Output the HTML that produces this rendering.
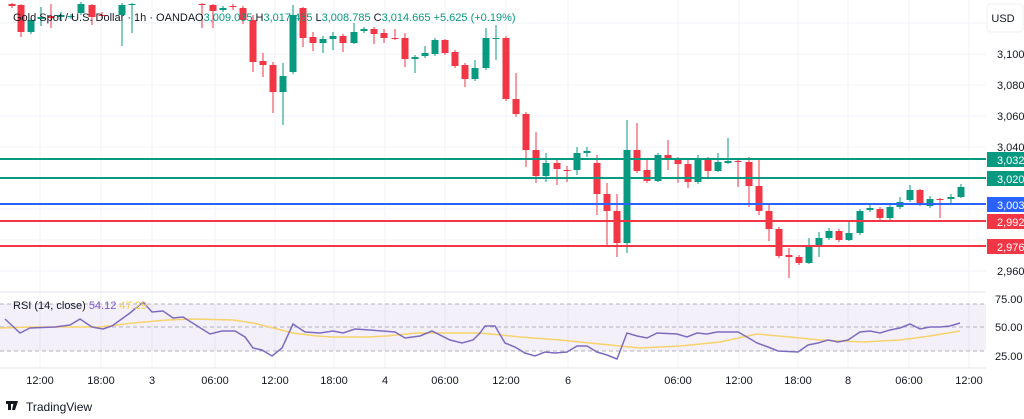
<!DOCTYPE html>
<html><head><meta charset="utf-8"><style>
body{margin:0;width:1024px;height:419px;background:#fff;overflow:hidden;font-family:"Liberation Sans",sans-serif}
svg{position:absolute;left:0;top:0}
</style></head><body>
<svg id="s" width="1024" height="419" viewBox="0 0 1024 419" xmlns="http://www.w3.org/2000/svg" font-family="Liberation Sans, sans-serif">
<g id="grid" stroke="#f0f3fa" stroke-width="1"></g>
<rect x="0" y="304" width="986" height="47" fill="#7e57c2" fill-opacity="0.09"/>
<g stroke="#9598a1" stroke-dasharray="4,3" stroke-width="1" opacity="0.7">
<line x1="0" y1="304" x2="986" y2="304"/><line x1="0" y1="327" x2="986" y2="327"/><line x1="0" y1="351" x2="986" y2="351"/>
</g>
<line x1="0" y1="292" x2="1024" y2="292" stroke="#e0e3eb"/>
<line x1="0" y1="368" x2="1024" y2="368" stroke="#e0e3eb"/>
<g id="candles"></g>
<line x1="0" y1="159" x2="986" y2="159" stroke="#089981" stroke-width="2"/>
<line x1="0" y1="178" x2="986" y2="178" stroke="#089981" stroke-width="2"/>
<line x1="0" y1="204" x2="986" y2="204" stroke="#2962ff" stroke-width="2"/>
<line x1="0" y1="221" x2="986" y2="221" stroke="#f23645" stroke-width="2"/>
<line x1="0" y1="246" x2="986" y2="246" stroke="#f23645" stroke-width="2"/>
<polyline fill="none" stroke="#f7d26b" stroke-width="1.5" points="0,328 33,327 67,327 100,327 133,323 167,320 193,319 233,320 253,323 273,328 293,333 317,336 333,337 367,337 387,336 417,333 450,333 480,333 520,337 560,340 600,344 640,348 680,346 720,342 757,334 790,337 820,340 863,342 900,340 930,336 960,331"/>
<polyline fill="none" stroke="#7e6bbf" stroke-width="1.5" points="5,319 20,333 30,328 55,327 70,325 80,319 92,327 103,329 112,326 130,313 143,302 152,312 163,311 173,318 183,317 210,334 222,331 235,331 245,337 253,348 262,350 272,356 282,348 293,324 305,332 320,333 333,331 343,333 355,329 370,330 395,332 405,338 420,336 432,331 450,340 462,343 473,340 480,333 485,326 495,326 505,343 515,347 525,353 535,356 545,352 555,353 567,352 577,346 587,346 597,352 607,355 617,359 627,333 637,336 647,338 657,333 677,334 687,337 697,333 707,334 717,332 738,332 747,337 757,343 768,347 778,351 798,352 808,345 818,343 828,340 838,342 848,340 860,332 870,331 880,333 890,330 900,328 910,324 920,329 930,327 940,327 950,326 960,323"/>
<rect x="986" y="0" width="38" height="419" fill="#fff"/>
<rect x="987" y="4" width="36" height="28" rx="4" fill="#fff" stroke="#eef0f4"/>
<g font-size="11" fill="#131722">
<text x="1003" y="22" text-anchor="middle">USD</text>
<text x="997" y="58">3,100</text><text x="997" y="89">3,080</text><text x="997" y="120">3,060</text><text x="997" y="151">3,040</text>
<text x="997" y="275">2,960</text>
<text x="995" y="303">75.00</text><text x="995" y="331">50.00</text><text x="995" y="360">25.00</text>
</g>
<g font-size="11" fill="#fff">
<rect x="987" y="152" width="37" height="15" fill="#089981"/><text x="997" y="164">3,032</text>
<rect x="987" y="171" width="37" height="15" fill="#089981"/><text x="997" y="183">3,020</text>
<rect x="987" y="197" width="37" height="15" fill="#2962ff"/><text x="997" y="209">3,003</text>
<rect x="987" y="214" width="37" height="15" fill="#f23645"/><text x="997" y="226">2,992</text>
<rect x="987" y="239" width="37" height="15" fill="#f23645"/><text x="997" y="251">2,976</text>
</g>
<g font-size="11" fill="#131722" text-anchor="middle">
<text x="40" y="384">12:00</text><text x="101" y="384">18:00</text><text x="152" y="384">3</text><text x="215" y="384">06:00</text>
<text x="275" y="384">12:00</text><text x="334" y="384">18:00</text><text x="385" y="384">4</text><text x="445" y="384">06:00</text>
<text x="506" y="384">12:00</text><text x="568" y="384">6</text><text x="678" y="384">06:00</text><text x="739" y="384">12:00</text>
<text x="798" y="384">18:00</text><text x="848" y="384">8</text><text x="909" y="384">06:00</text><text x="969" y="384">12:00</text>
</g>
<g font-size="11">
<text x="13" y="21" fill="#131722">Gold Spot / U.S. Dollar · 1h · OANDA</text>
<text x="195" y="21" fill="#131722">O<tspan fill="#089981">3,009.035</tspan> H<tspan fill="#089981">3,017.455</tspan> L<tspan fill="#089981">3,008.785</tspan> C<tspan fill="#089981">3,014.665</tspan> <tspan fill="#089981">+5.625 (+0.19%)</tspan></text>
<text x="13" y="309" fill="#131722">RSI (14, close) <tspan fill="#7e57c2">54.12</tspan> <tspan fill="#f7c948">47.29</tspan></text>
</g>
<g fill="#131722"><rect x="6" y="401" width="8" height="3"/><rect x="8" y="401" width="3" height="9"/><path d="M14 401h4l-3 9h-3z"/></g>
<text x="26" y="411" font-size="12" fill="#131722">TradingView</text>
</svg>
<script>
var g=document.getElementById('grid'),ns='http://www.w3.org/2000/svg';
[40,101,152,215,275,334,385,445,506,568,678,739,798,848,909,969].forEach(function(x){var l=document.createElementNS(ns,'line');l.setAttribute('x1',x);l.setAttribute('x2',x);l.setAttribute('y1',0);l.setAttribute('y2',368);g.appendChild(l);});
[23,54,85,116,147,178,209,240,271].forEach(function(y){var l=document.createElementNS(ns,'line');l.setAttribute('x1',0);l.setAttribute('x2',986);l.setAttribute('y1',y);l.setAttribute('y2',y);g.appendChild(l);});
var G='#089981',R='#f23645';
var c=[[12,4,6,3,8,R],[21,5,32,4,37,R],[31,20,32,18,34,G],[41,17,19,7,26,G],[51,16,18,4,28,R],[61,15,17,12,20,G],[71,16,17,14,19,G],[81,4,13,2,15,G],[92,5,17,4,25,R],[102,15,16,12,19,R],[122,5,15,3,46,G],[132,4,5,3,33,G],
[202,4,5,3,28,R],[213,5,11,4,28,R],[223,8,10,6,12,G],[233,6,7,4,10,R],[243,8,20,6,24,R],[253,20,62,15,72,R],[263,61,65,53,77,R],[273,65,92,62,113,R],[283,76,92,63,125,G],[293,15,72,5,74,G],[303,8,38,7,47,R],[313,37,43,32,51,R],[323,39,43,36,53,G],[333,36,39,32,50,G],[343,36,43,34,52,R],[354,32,43,23,44,G],[364,29,31,27,33,G],[374,29,34,27,44,R],[384,33,38,29,43,R],[395,38,39,29,40,R],[405,38,59,33,67,R],[415,57,59,55,73,G],[425,53,56,46,58,G],[435,40,54,38,56,G],[445,40,53,39,55,R],[455,52,66,50,68,R],[465,65,79,63,87,R],[475,68,79,60,81,G],[486,38,68,28,70,G],[496,38,39,25,60,G],
[506,38,99,36,101,R],[516,99,114,73,117,R],[526,114,150,112,167,R],[536,150,176,132,183,R],[546,163,176,153,182,G],[557,163,169,160,185,R],[567,170,171,166,182,R],[577,153,170,147,175,G],[587,151,153,147,157,G],[597,163,194,155,215,R],[607,194,211,183,247,R],[617,211,243,194,257,R],[627,150,243,120,253,G],[637,150,171,123,173,R],[647,170,181,158,183,R],[658,155,181,153,182,G],[668,155,160,140,170,R],[678,159,164,157,183,R],[688,164,182,158,188,R],[698,159,182,155,184,G],[708,159,171,157,177,R],[718,162,171,153,172,G],[728,161,163,138,164,G],[738,161,162,160,187,R],[749,162,186,157,207,R],[759,186,211,160,215,R],[769,211,229,203,241,R],[779,229,256,227,258,R],[789,255,257,248,278,R],[799,257,263,255,265,R],[809,247,263,238,264,G],[819,238,247,232,257,G],[829,231,238,228,240,G],[839,231,240,229,242,R],[849,233,240,222,241,G],[860,211,233,209,235,G],[870,208,210,203,212,G],[880,209,218,207,220,R],[890,207,218,205,222,G],[900,202,207,197,209,G],[910,190,200,185,202,G],[920,190,205,189,206,R],[930,199,206,196,208,G],[940,199,200,198,218,R],[951,197,199,194,203,G],[961,187,197,184,198,G]];
var cg=document.getElementById('candles');
c.forEach(function(d){var w=document.createElementNS(ns,'line');w.setAttribute('x1',d[0]);w.setAttribute('x2',d[0]);w.setAttribute('y1',d[3]);w.setAttribute('y2',d[4]);w.setAttribute('stroke',d[5]);cg.appendChild(w);
var r=document.createElementNS(ns,'rect');r.setAttribute('x',d[0]-3.5);r.setAttribute('width',7);r.setAttribute('y',d[1]);r.setAttribute('height',Math.max(1,d[2]-d[1]));r.setAttribute('fill',d[5]);cg.appendChild(r);});
</script>
</body></html>
